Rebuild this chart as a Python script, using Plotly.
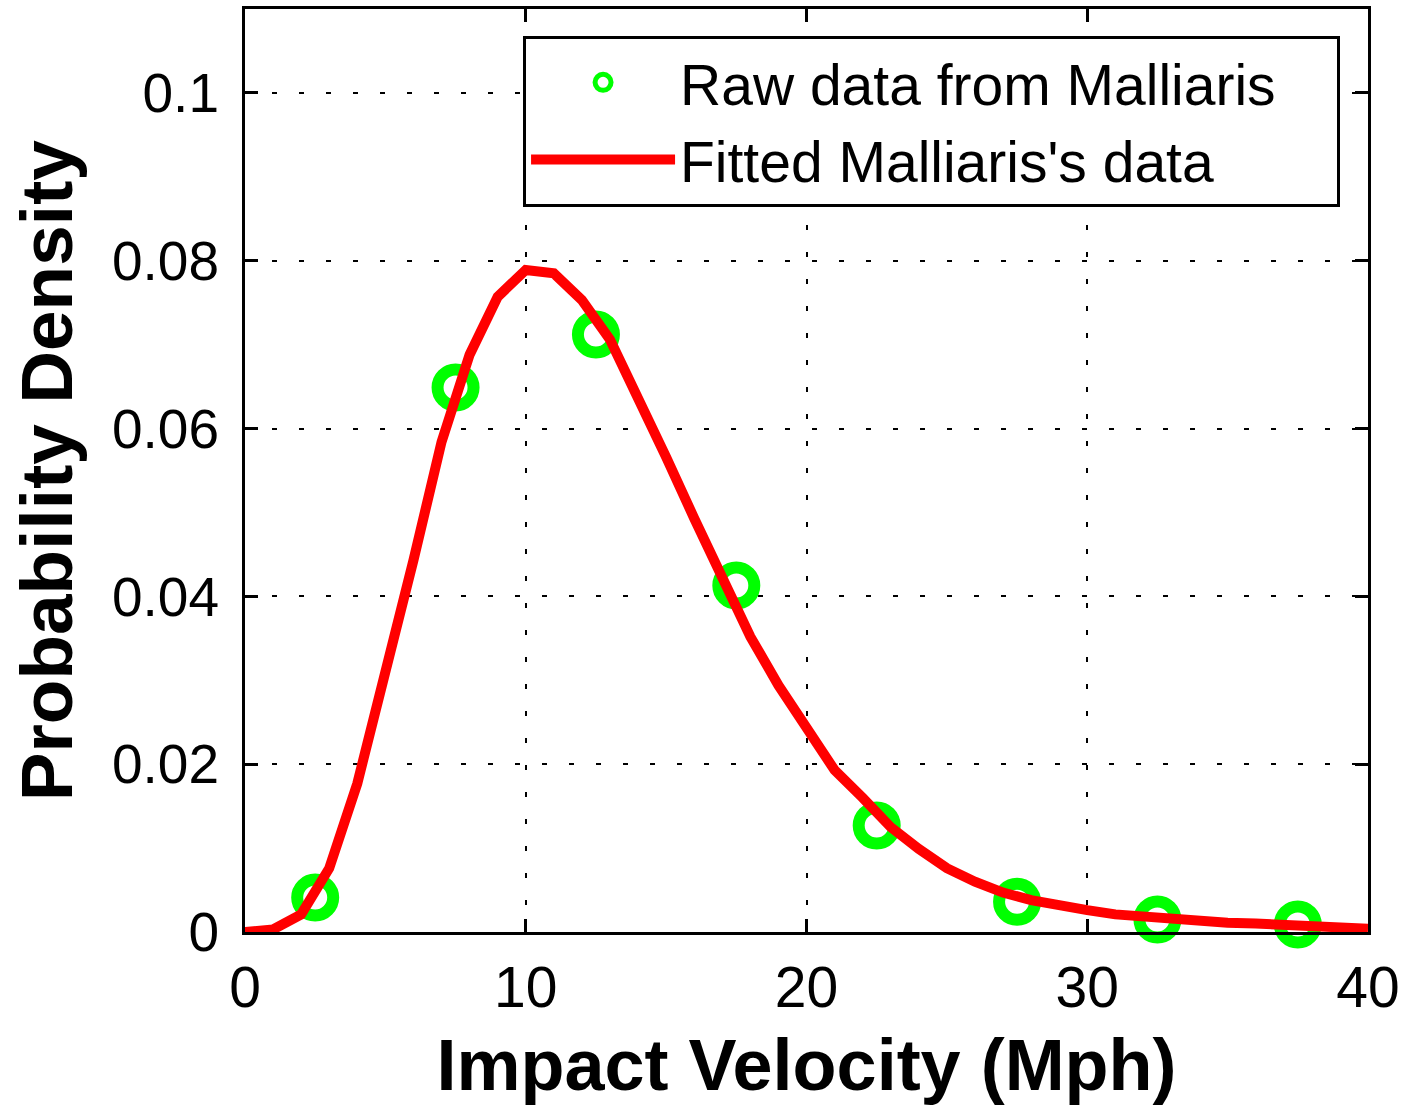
import plotly.graph_objects as go

# Raw data (circles)
raw_x = [2.5, 7.5, 12.5, 17.5, 22.5, 27.5, 32.5, 37.5]
raw_y = [0.0041, 0.0649, 0.0712, 0.0413, 0.0127, 0.0036, 0.0015, 0.0009]

# Fitted curve (values read at integer velocities)
fit_x = list(range(0, 41))
fit_y = [0.0000, 0.0003, 0.0021, 0.0076, 0.0177, 0.0305, 0.0443, 0.0584, 0.0688, 0.0757,
         0.0789, 0.0785, 0.0753, 0.0706, 0.0638, 0.0566, 0.0493, 0.0422, 0.0352, 0.0294,
         0.0243, 0.0193, 0.0160, 0.0125, 0.0099, 0.0076, 0.0060, 0.0047, 0.0038, 0.0031,
         0.0026, 0.0021, 0.0018, 0.0015, 0.0013, 0.0011, 0.0010, 0.0008, 0.0007, 0.0005,
         0.0004]

x_ticks = [0, 10, 20, 30, 40]
y_ticks = [0, 0.02, 0.04, 0.06, 0.08, 0.1]
y_ticktext = ["0", "0.02", "0.04", "0.06", "0.08", "0.1"]

FONT = "Liberation Sans, Arial, Helvetica, sans-serif"

fig = go.Figure()
fig.add_trace(go.Scatter(
    x=raw_x, y=raw_y, mode="markers", name="Raw data from Malliaris",
    marker=dict(symbol="circle-open", size=36, color="#00ff00",
                line=dict(width=12, color="#00ff00")),
    cliponaxis=False,
))
fig.add_trace(go.Scatter(
    x=fit_x, y=fit_y, mode="lines", name="Fitted Malliaris's data",
    line=dict(color="#ff0000", width=10),
))

axis_common = dict(
    showline=True, linecolor="black", linewidth=3, mirror="ticks",
    ticks="inside", ticklen=13, tickwidth=3, tickcolor="black",
    showgrid=True, gridcolor="black", gridwidth=1.5, griddash="5px,22px",
    zeroline=False, automargin=False,
)

fig.update_xaxes(range=[0, 40], tickvals=x_ticks, ticktext=[str(v) for v in x_ticks],
                 tickfont=dict(family=FONT, size=57, color="black"),
                 ticklabelstandoff=4,
                 title=dict(text="<b>Impact Velocity (Mph)</b>", standoff=24,
                            font=dict(family=FONT, size=72, color="black")),
                 **axis_common)
fig.update_yaxes(range=[0, 0.11], tickvals=y_ticks, ticktext=y_ticktext,
                 tickfont=dict(family=FONT, size=55, color="black"),
                 ticklabelstandoff=12,
                 **axis_common)

# y-axis title placed as a rotated annotation so it can sit farther from the tick labels
fig.add_annotation(
    text="<b>Probability Density</b>", xref="paper", yref="paper",
    x=-0.1765, y=0.5, xanchor="center", yanchor="middle",
    textangle=-90, showarrow=False,
    font=dict(family=FONT, size=73, color="black"),
)

fig.update_layout(
    width=1402, height=1105,
    margin=dict(l=245, r=34, t=9, b=173, autoexpand=False),
    plot_bgcolor="white", paper_bgcolor="white",
    showlegend=True,
    legend=dict(
        orientation="h", entrywidth=652, entrywidthmode="pixels",
        x=0.2476, y=0.971, xanchor="left", yanchor="top",
        bgcolor="white", bordercolor="black", borderwidth=3,
        font=dict(family=FONT, size=57, color="black"),
        itemwidth=144, tracegroupgap=0,
    ),
)

fig.write_html(
    "out.html",
    config={"displayModeBar": False},
    post_script="document.body.style.margin='0';"
                "document.documentElement.style.overflow='hidden';",
)
